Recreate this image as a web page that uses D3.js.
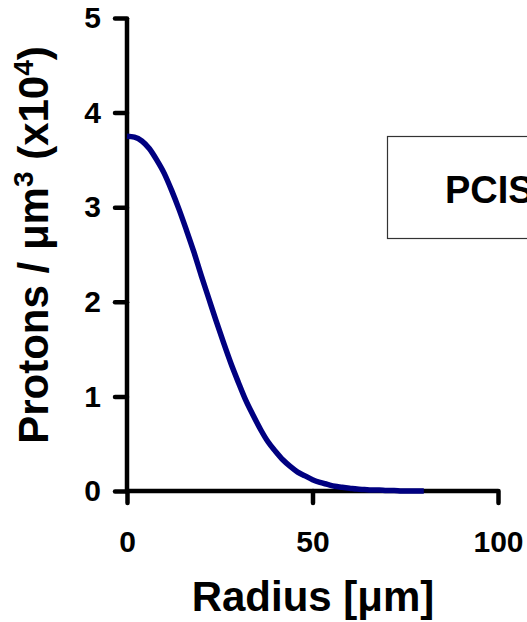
<!DOCTYPE html>
<html>
<head>
<meta charset="utf-8">
<script src="https://cdn.jsdelivr.net/npm/d3@7"></script>
<style>
  body { margin: 0; background: #fff; }
  svg { display: block; font-family: "Liberation Sans", Arial, sans-serif; font-weight: bold; }
</style>
</head>
<body>
<div id="chart-area"></div>
<script>
// DATA
var radius = [0, 2, 4, 6, 8, 10, 12, 14, 16, 18, 20, 22, 24, 26, 28, 30, 32, 34, 36, 38,
    40, 42, 44, 46, 48, 50, 52, 54, 56, 58, 60, 62, 64, 66, 68, 70, 72, 74, 76, 78, 80];
var protons = [3.75, 3.74, 3.70, 3.62, 3.50, 3.36, 3.18, 2.98, 2.76, 2.53, 2.28, 2.04, 1.80, 1.57, 1.35, 1.15, 0.96, 0.80, 0.65, 0.52,
    0.42, 0.33, 0.26, 0.20, 0.16, 0.12, 0.09, 0.07, 0.05, 0.04, 0.03, 0.02, 0.015, 0.01, 0.01, 0.005, 0.005, 0, 0, 0, 0];
var xTicks = [0, 50, 100];
var yTicks = [0, 1, 2, 3, 4, 5];
var legendLabel = "PCIS";

var width = 527;
var height = 622;

var svg = d3.select("#chart-area")
    .append("svg")
    .attr("width", width)
    .attr("height", height);

// SCALES
var x = d3.scaleLinear().domain([0, 100]).range([127, 498]);
var y = d3.scaleLinear().domain([0, 5]).range([491, 18]);

// AXES
var yAxis = d3.axisLeft(y).tickValues(yTicks).tickSize(12).tickPadding(14).tickFormat(d3.format("d"));
var xAxis = d3.axisBottom(x).tickValues(xTicks).tickSize(12).tickPadding(28).tickFormat(d3.format("d"));

var yAxisGroup = svg.append("g")
    .attr("transform", "translate(127, 0)")
    .call(yAxis);

var xAxisGroup = svg.append("g")
    .attr("transform", "translate(0, 491)")
    .call(xAxis);

[xAxisGroup, yAxisGroup].forEach(function (gr) {
    gr.attr("font-size", null).attr("font-family", null);
    gr.select(".domain").attr("stroke", "#000").attr("stroke-width", 4.5);
    gr.selectAll(".tick line").attr("stroke", "#000").attr("stroke-width", 4.5).attr("stroke-linecap", "round");
    gr.selectAll(".tick text")
        .attr("fill", "#000")
        .style("font-size", "30px");
});

// draw domains as plain lines (no outer tick caps)
yAxisGroup.select(".domain").attr("d", "M0," + y(5) + "V" + (y(0) + 2));
xAxisGroup.select(".domain").attr("d", "M" + (x(0) - 2) + ",0H" + x(100));

// LINE
var line = d3.line()
    .x(function (d, i) { return x(radius[i]); })
    .y(function (d) { return y(d); })
    .curve(d3.curveMonotoneX);

svg.append("path")
    .datum(protons)
    .attr("fill", "none")
    .attr("stroke", "#000080")
    .attr("stroke-width", 5.5)
    .attr("stroke-linejoin", "round")
    .attr("d", line);

// LEGEND box (runs off the right edge, as in the source figure)
svg.append("rect")
    .attr("x", 387.5)
    .attr("y", 136.5)
    .attr("width", 200)
    .attr("height", 102)
    .attr("fill", "#fff")
    .attr("stroke", "#333")
    .attr("stroke-width", 1.2);

svg.append("text")
    .attr("x", 445)
    .attr("y", 203)
    .style("font-size", "38px")
    .attr("fill", "#000")
    .text(legendLabel);

// TITLES
svg.append("text")
    .attr("x", 313)
    .attr("y", 611)
    .attr("text-anchor", "middle")
    .style("font-size", "42px")
    .attr("fill", "#000")
    .text("Radius [\u03bcm]");

var yLabel = svg.append("text")
    .attr("transform", "translate(48, 245) rotate(-90)")
    .attr("text-anchor", "middle")
    .style("font-size", "42px")
    .attr("fill", "#000");
yLabel.append("tspan").text("Protons / \u03bcm");
yLabel.append("tspan").style("font-size", "28px").attr("dy", -15).text("3");
yLabel.append("tspan").attr("dy", 15).text(" (x10");
yLabel.append("tspan").style("font-size", "28px").attr("dy", -15).text("4");
yLabel.append("tspan").attr("dy", 15).text(")");
</script>
</body>
</html>
